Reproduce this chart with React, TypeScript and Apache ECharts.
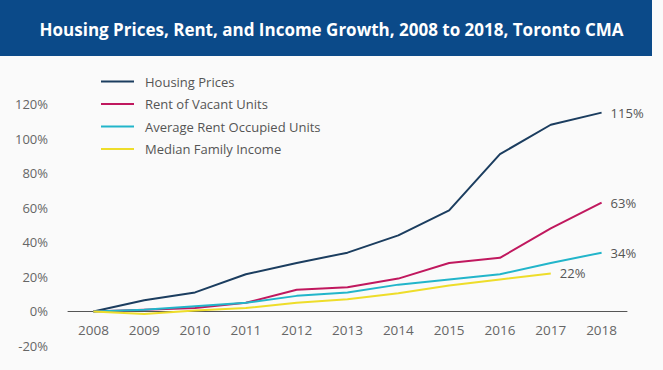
import React, { useEffect, useRef } from "react";
import * as echarts from "echarts";

const years = ["2008", "2009", "2010", "2011", "2012", "2013", "2014", "2015", "2016", "2017", "2018"];
const housingPrices = [0, 6.5, 11, 21.5, 28, 34, 44, 58.5, 91, 108, 115];
const rentVacant = [0, 1, 2, 5, 12.5, 14, 19, 28, 31, 48, 63];
const rentOccupied = [0, 1, 3, 5, 9, 11, 15.5, 18.5, 21.5, 28, 34];
const familyIncome = [0, -1.5, 0.5, 2, 5, 7, 10.5, 15, 18.5, 22];
const yTicks = { min: -20, max: 120, interval: 20 };
const titleText = "Housing Prices, Rent, and Income Growth, 2008 to 2018, Toronto CMA";

const FONT = "'Open Sans', sans-serif";
const GRID_TOP = 104;
const GRID_BOTTOM = 24;
const H = 370;

export default function App() {
  const ref = useRef<HTMLDivElement>(null);
  useEffect(() => {
    document.body.style.margin = "0";
    const chart = echarts.init(ref.current!, undefined, { renderer: "svg" });
    const gridH = H - GRID_TOP - GRID_BOTTOM;
    const zeroOffset = (gridH * (0 - yTicks.min)) / (yTicks.max - yTicks.min);
    const mk = (name: string, data: number[], color: string) => ({
      name,
      type: "line",
      data,
      symbol: "none",
      lineStyle: { width: 2, color },
      itemStyle: { color },
      endLabel: {
        show: true,
        formatter: (p: any) => Math.round(p.value) + "%",
        color: "#555",
        fontSize: 13,
        fontFamily: FONT,
        distance: 9,
      },
    });
    chart.setOption({
      animation: false,
      backgroundColor: "#fafafa",
      textStyle: { fontFamily: FONT },
      graphic: [
        {
          type: "rect",
          shape: { x: 0, y: 0, width: 652, height: 56 },
          style: { fill: "#0b4a89" },
          z: -1,
        },
      ],
      title: {
        text: titleText,
        left: "center",
        top: 16,
        textStyle: { color: "#fff", fontSize: 17, fontWeight: "bold", fontFamily: FONT },
      },
      legend: {
        orient: "vertical",
        left: 96,
        top: 70,
        itemWidth: 33,
        itemHeight: 2,
        itemGap: 9.5,
        icon: "rect",
        textStyle: { color: "#555", fontSize: 13, fontFamily: FONT, padding: [0, 0, 0, 6] },
        data: ["Housing Prices", "Rent of Vacant Units", "Average Rent Occupied Units", "Median Family Income"],
      },
      grid: { left: 68, right: 36, top: GRID_TOP, bottom: GRID_BOTTOM, containLabel: false },
      xAxis: {
        type: "category",
        data: years,
        boundaryGap: true,
        offset: -zeroOffset,
        axisLine: { onZero: false, lineStyle: { color: "#555", width: 1 } },
        axisTick: { show: false },
        axisLabel: { color: "#666", fontSize: 13.5, margin: 12, fontFamily: FONT },
      },
      yAxis: {
        type: "value",
        min: yTicks.min,
        max: yTicks.max,
        interval: yTicks.interval,
        axisLine: { show: false },
        axisTick: { show: false },
        splitLine: { show: false },
        axisLabel: { color: "#666", fontSize: 13, margin: 20, formatter: "{value}%", fontFamily: FONT },
      },
      series: [
        mk("Housing Prices", housingPrices, "#1b3d5f"),
        mk("Rent of Vacant Units", rentVacant, "#c0185e"),
        mk("Average Rent Occupied Units", rentOccupied, "#22b5ca"),
        mk("Median Family Income", familyIncome, "#eedd2a"),
      ],
    });
    return () => chart.dispose();
  }, []);
  return <div ref={ref} style={{ width: 663, height: 370 }} />;
}
